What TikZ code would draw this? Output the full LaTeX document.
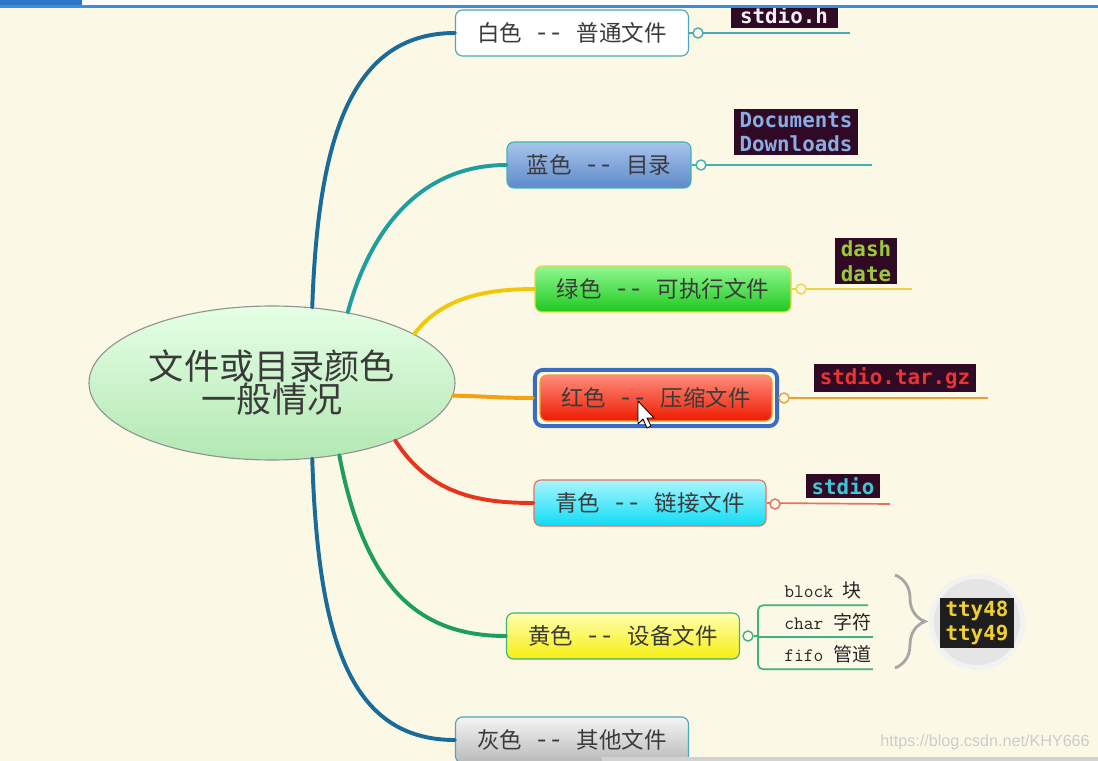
\documentclass[tikz,border=0pt]{standalone}
\usepackage{fontspec}
\usepackage{xcolor}
\usepackage{tikz}
\usetikzlibrary{shapes.geometric, positioning, fit, decorations.pathreplacing}
\newfontfamily\cjk{Noto Sans CJK SC}
\newfontfamily\term{DejaVu Sans Mono}
\newfontfamily\wmfont{Liberation Sans}
\newdimen\pxu \pxu=0.025cm
\newcommand\dsep{\hspace{0.7em}{\fontsize{19}{19}\selectfont-\hspace{0.18em}-}\hspace{0.7em}}
\definecolor{bgc}{HTML}{FBF9E6}
\definecolor{topblue}{HTML}{3C8ED8}
\definecolor{topdark}{HTML}{2C78C8}
\definecolor{txt}{HTML}{3A3A3A}
\definecolor{conA}{HTML}{1A6A9A}
\definecolor{conB}{HTML}{1E9E9E}
\definecolor{conC}{HTML}{F0C808}
\definecolor{conD}{HTML}{F5A010}
\definecolor{conE}{HTML}{E8341C}
\definecolor{conF}{HTML}{1E9E5E}
\definecolor{lnA}{HTML}{4AA8B8}
\definecolor{lnB}{HTML}{40B4B4}
\definecolor{lnC}{HTML}{ECD640}
\definecolor{lnD}{HTML}{F0A030}
\definecolor{lnE}{HTML}{E87060}
\definecolor{lnF}{HTML}{40B080}
\definecolor{selblue}{HTML}{3A6CC4}
\definecolor{termbg}{HTML}{300A24}
\definecolor{ttybg}{HTML}{1E1E1E}

\begin{document}
\begin{tikzpicture}[x=0.025cm, y=-0.025cm,
    branch/.style={line width=2.8pt, line cap=round},
    topic/.style={draw, rounded corners=7\pxu, minimum height=46\pxu, line width=0.8pt,
      text=txt, font=\cjk\fontsize{16}{19}\selectfont},
    knob/.style={circle, draw, fill=bgc, inner sep=0pt, minimum size=10\pxu, line width=1pt},
    leaf/.style={line width=1.2pt},
    termbox/.style={fill=termbg, inner xsep=6\pxu, inner ysep=3\pxu, align=left,
      font=\term\bfseries\fontsize{14.8}{17.5}\selectfont},
    subtxt/.style={anchor=west, inner xsep=0pt, minimum height=30\pxu, text=black!85,
      font=\ttfamily\fontsize{13.5}{15}\selectfont}]
  \useasboundingbox (0,0) rectangle (1098,761);
  \clip (0,0) rectangle (1098,761);
  \fill[bgc] (0,0) rectangle (1098,761);
  % cut-off terminal box under the window edge
  \node[termbox, text=white!90!gray, minimum width=107\pxu, minimum height=26\pxu] (t1) at (784,15) {stdio.h};
  % window edge
  \fill[white] (0,0) rectangle (1098,5);
  \fill[topblue] (0,5) rectangle (1098,8);
  \fill[topdark] (0,0) rectangle (82,5);
  % centre
  \node[ellipse, draw=gray!85, line width=0.8pt, top color=green!10!white, bottom color=green!70!black!30!white,
    minimum width=366\pxu, minimum height=154\pxu, inner sep=0pt, align=center, text=txt,
    font=\cjk\fontsize{25}{23.5}\selectfont] (root) at (272,383) {文件或目录颜色\\一般情况};
  % topics
  \node[topic, fill=white, draw=lnA, minimum width=233\pxu] (white) at (572,33) {白色\dsep 普通文件};
  \node[topic, top color={rgb,255:red,168;green,196;blue,236}, bottom color={rgb,255:red,94;green,138;blue,203},
    draw=lnB, minimum width=184\pxu] (blue) at (599,165) {蓝色\dsep 目录};
  \node[topic, top color={rgb,255:red,144;green,248;blue,144}, bottom color={rgb,255:red,32;green,200;blue,32},
    draw=lnC, minimum width=256\pxu] (green) at (663,289) {绿色\dsep 可执行文件};
  \node[topic, top color={rgb,255:red,255;green,140;blue,124}, bottom color={rgb,255:red,240;green,26;blue,0},
    draw=lnD, minimum width=232\pxu] (red) at (656,398) {红色\dsep 压缩文件};
  \node[draw=selblue, line width=2.8pt, rounded corners=8\pxu, inner sep=4.5\pxu, fit=(red)] (sel) {};
  \node[topic, top color={rgb,255:red,168;green,246;blue,255}, bottom color={rgb,255:red,16;green,220;blue,244},
    draw=lnE, minimum width=232\pxu] (cyan) at (650,503) {青色\dsep 链接文件};
  \node[topic, top color={rgb,255:red,255;green,255;blue,176}, bottom color={rgb,255:red,246;green,238;blue,16},
    draw=lnF, minimum width=233\pxu] (yellow) at (623,636) {黄色\dsep 设备文件};
  \node[topic, top color=gray!8, bottom color=gray!55, draw=lnA, minimum width=233\pxu] (gray) at (572,740) {灰色\dsep 其他文件};
  % branches
  \draw[branch, conA] (root.62) .. controls (318,140) and (350,33) .. (white.west);
  \draw[branch, conB] (root.43) .. controls (370,230) and (420,165) .. (blue.west);
  \draw[branch, conC] (root.19) .. controls (440,300) and (480,289) .. (green.west);
  \draw[branch, conD] (root.-4) .. controls (480,396) and (500,398) .. (sel.west);
  \draw[branch, conE] (root.-25) .. controls (430,495) and (480,503) .. (cyan.west);
  \draw[branch, conF] (root.-47) .. controls (365,590) and (420,636) .. (yellow.west);
  \draw[branch, conA] (root.-62) .. controls (318,640) and (350,740) .. (gray.west);
  % knobs and leaf lines
  \coordinate (e1) at (850,33);
  \coordinate (e2) at (872,165);
  \coordinate (e3) at (912,289);
  \coordinate (e4) at (988,398);
  \coordinate (e5) at (890,504);
  \draw[leaf, lnA] (white.east) -- (e1);
  \draw[leaf, lnB] (blue.east) -- (e2);
  \draw[leaf, lnC] (green.east) -- (e3);
  \draw[leaf, lnD] (sel.east) -- (e4);
  \draw[leaf, lnE] (cyan.east) -- (e5);
  \node[knob, draw=lnA] (k1) at (698,33) {};
  \node[knob, draw=lnB] (k2) at (701,165) {};
  \node[knob, draw=lnC] (k3) at (801,289) {};
  \node[knob, draw=lnD] (k4) at (784,398) {};
  \node[knob, draw=lnE] (k5) at (775,504) {};
  % terminal snippets
  \node[termbox, text={rgb,255:red,138;green,172;blue,228}] (t2) at (796,132) {Documents\\Downloads};
  \node[termbox, text={rgb,255:red,155;green,200;blue,60}] (t3) at (866,261) {dash\\date};
  \node[termbox, text={rgb,255:red,232;green,52;blue,52}] (t4) at (895,378) {stdio.tar.gz};
  \node[termbox, text={rgb,255:red,64;green,196;blue,214}] (t5) at (843,486) {stdio};
  % device sub-branches
  \coordinate (split) at (758,636);
  \node[knob, draw=lnF] (k6) at (748,636) {};
  \node[subtxt] (blk) at (784,590) {block {\cjk 块}};
  \node[subtxt] (chr) at (784,622) {char {\cjk 字符}};
  \node[subtxt] (ffo) at (784,654) {fifo {\cjk 管道}};
  \draw[leaf, lnF] (k6.east) -- (split);
  \draw[leaf, lnF, rounded corners=5\pxu] (split |- blk.south) ++(110,0) -- (split |- blk.south)
    -- (split |- ffo.south) -- ++(115,0);
  \draw[leaf, lnF] (split |- chr.south) -- ++(115,0);
  \draw[gray!70, line width=2pt, decorate, decoration={brace, amplitude=30\pxu}] (895,575) -- (895,668);
  \fill[gray!10] (977,622) circle (48);
  \fill[gray!20] (977,622) circle (43);
  \node[termbox, fill=ttybg, text={rgb,255:red,240;green,208;blue,48}] (t6) at (977,623) {tty48\\tty49};
  % mouse pointer
  \draw[fill=white, line width=0.6pt, line join=round] (638,401) -- (638,424) -- (643,419) -- (647,428)
    -- (651,426) -- (647,418) -- (654,418) -- cycle;
  % watermark and bottom bar
  \node[text=gray!40, font=\wmfont\fontsize{11.5}{13}\selectfont] (wm) at (985,742) {https://blog.csdn.net/KHY666};
  \fill[gray!35] (602,757) rectangle (1098,761);
\end{tikzpicture}
\end{document}
